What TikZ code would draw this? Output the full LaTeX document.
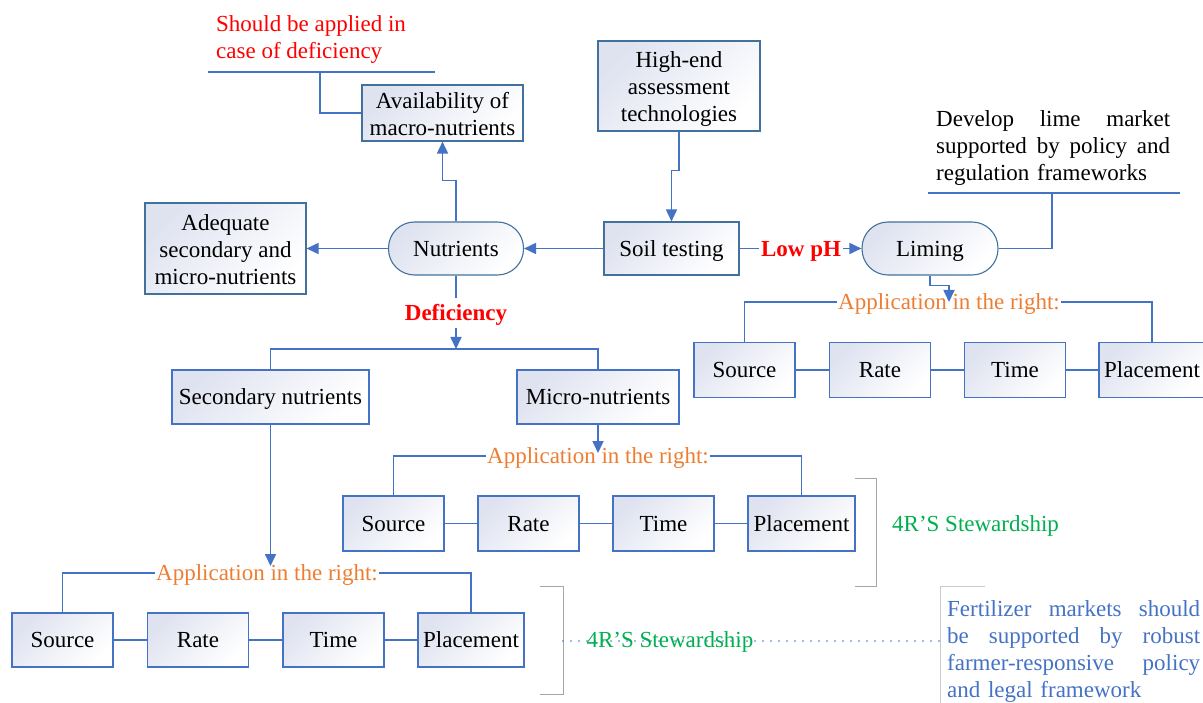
\documentclass[tikz,border=0pt]{standalone}
\usepackage{fontspec}
\setmainfont{Liberation Serif}
\usetikzlibrary{arrows.meta}
\definecolor{cblue}{HTML}{4472C4}
\definecolor{cdark}{HTML}{41719C}
\definecolor{cfill}{HTML}{DFE3F0}
\definecolor{corange}{HTML}{ED7D31}
\definecolor{cgreen}{HTML}{00B050}
\definecolor{cred}{HTML}{FF0000}
\definecolor{cgrey}{HTML}{A6A6A6}
\newcommand\zstrut{\rule[-5.5pt]{0pt}{26.5pt}}
\newcommand\ztallstrut{\rule[-5.5pt]{0pt}{29pt}}
\newcommand\jline[2]{\leavevmode\hbox to #1{#2}}
\begin{document}
\begin{tikzpicture}[x=1pt,y=-1pt,
  every node/.style={font=\fontsize{23}{27}\selectfont, inner sep=0pt},
  txt/.style={execute at begin node=\zstrut, execute at end node=\zstrut},
  box/.style={txt, draw=cdark, line width=1.1pt, top color=cfill, bottom color=white, shading angle=45, align=center},
  rbox/.style={box, draw=cblue, minimum width=101pt, minimum height=55pt},
  pill/.style={box, rounded corners=26pt, minimum width=135pt, minimum height=53pt},
  conn/.style={draw=cblue, line width=1.7pt},
  arr/.style={conn, -{Triangle[length=12pt,width=11pt]}},
  apptext/.style={txt, text=corange, inner sep=1pt},
  redlab/.style={txt, text=cred, font=\fontsize{23}{27}\selectfont\bfseries, inner sep=2pt},
  greytick/.style={draw=cgrey, line width=1pt},
  dots/.style={draw=cblue, line width=1.8pt, line cap=round, dash pattern=on 0pt off 8pt}]
\useasboundingbox (0,0) rectangle (1203,703);

% ---- top-level nodes
\node[box, minimum width=161pt, minimum height=54pt] (avail) at (442.5,113) {\ztallstrut Availability of\\macro-nutrients};
\node[box, minimum width=161pt, minimum height=91pt] (adeq) at (225.5,248.5) {\ztallstrut Adequate\\secondary and\\micro-nutrients};
\node[pill] (nutr) at (456,248.5) {Nutrients};
\node[box, minimum width=135pt, minimum height=53pt] (soil) at (671.5,248.5) {Soil testing};
\node[box, minimum width=162pt, minimum height=90pt] (high) at (679,86) {\ztallstrut High-end\\assessment\\technologies};
\node[pill, minimum width=136pt] (lim) at (930,248.5) {Liming};
\node[box, draw=cblue, minimum width=197pt, minimum height=54pt] (sec) at (270.5,397) {Secondary nutrients};
\node[box, draw=cblue, minimum width=162pt, minimum height=54pt] (mic) at (598,397) {Micro-nutrients};

% ---- labels
\node[redlab] (lowph) at (801,248.5) {Low pH};
\node[redlab] (defl) at (456,313) {Deficiency};
\node[txt, text=cred, align=left, anchor=west] (sba) at (216,40) {Should be applied in\\case of deficiency};
\node[txt, anchor=west, text width=234pt, align=left] (dev) at (936,145.5)
  {\jline{234pt}{Develop\hfill lime\hfill market}\\\jline{234pt}{supported\hfill by\hfill policy\hfill and}\\regulation frameworks};
\node[txt, anchor=west, text width=253pt, align=left, text=cblue] (fert) at (947,649)
  {\jline{253pt}{Fertilizer\hfill markets\hfill should}\\\jline{253pt}{be\hfill supported\hfill by\hfill robust}\\\jline{253pt}{farmer-responsive\hfill policy}\\and legal framework};

% ---- application groups
\node[apptext] (app1) at (949,302) {Application in the right:};
\node[apptext] (app2) at (598,456) {Application in the right:};
\node[apptext] (app3) at (267,573) {Application in the right:};

\node[rbox] (src1) at (744.5,370) {Source};
\node[rbox] (rate1) at (880,370) {Rate};
\node[rbox] (time1) at (1015,370) {Time};
\node[rbox, minimum width=106pt] (plc1) at (1152,370) {Placement};

\node[rbox] (src2) at (393.5,523.5) {Source};
\node[rbox] (rate2) at (528.5,523.5) {Rate};
\node[rbox] (time2) at (663.5,523.5) {Time};
\node[rbox, minimum width=107pt] (plc2) at (801.5,523.5) {Placement};

\node[rbox, minimum height=54pt] (src3) at (62.5,640) {Source};
\node[rbox, minimum height=54pt] (rate3) at (198,640) {Rate};
\node[rbox, minimum height=54pt] (time3) at (333.5,640) {Time};
\node[rbox, minimum height=54pt, minimum width=106pt] (plc3) at (471,640) {Placement};

% ---- coordinates
\coordinate (u1) at (208,72);
\coordinate (u2) at (435,72);
\coordinate (u3) at (320,72);
\coordinate (d1) at (928,193);
\coordinate (d2) at (1180,193);
\coordinate (d3) at (1052,193);
\coordinate (defj) at (456,349);
\coordinate (dotA) at (563,641);
\coordinate (dotB) at (940,641);

% ---- connectors
\draw[conn] (u1) -- (u2);
\draw[conn] (u3) |- (avail.west);
\draw[arr] (nutr.north) -- ++(0,-41) -| (avail.south);
\draw[arr] (nutr.west) -- (adeq.east);
\draw[arr] (soil.west) -- (nutr.east);
\draw[arr] (high.south) -- ++(0,39) -| (soil.north);
\draw[conn] (soil.east) -- (lowph.west);
\draw[arr] (lowph.east) -- (lim.west);
\draw[conn] (d1) -- (d2);
\draw[conn] (d3) |- (lim.east);
\draw[arr] (lim.south) -- ++(0,10) -| (app1.center);
\draw[conn] (nutr.south) -- (defl.north);
\draw[arr] (defl.south) -- (defj);
\draw[conn] (sec.north) |- (defj) -| (mic.north);
\draw[arr, shorten >=3pt] (mic.south) -- (app2.center);
\draw[arr, shorten >=7pt] (sec.south) -- (sec.south |- app3.center);

\draw[conn] (src1.north) |- (app1.west);
\draw[conn] (app1.east) -| (plc1.north);
\draw[conn] (src1) -- (rate1) (rate1) -- (time1) (time1) -- (plc1);
\draw[conn] (src2.north) |- (app2.west);
\draw[conn] (app2.east) -| (plc2.north);
\draw[conn] (src2) -- (rate2) (rate2) -- (time2) (time2) -- (plc2);
\draw[conn] (src3.north) |- (app3.west);
\draw[conn] (app3.east) -| (plc3.north);
\draw[conn] (src3) -- (rate3) (rate3) -- (time3) (time3) -- (plc3);

% ---- 4R stewardship brackets
\draw[greytick] (855,478) -- (876,478) -- (876,586) -- (855,586);
\node[txt, text=cgreen, anchor=west] (st1) at (892,524) {4R’S Stewardship};
\draw[greytick] (540,586) -- (563,586) -- (563,694) -- (540,694);
\draw[draw=cgrey!60, line width=0.8pt] (940,703) -- (940,586) -- (985,586);
\draw[dots] (dotA) -- (dotB);
\node[txt, text=cgreen] (st2) at (670,640) {4R’S Stewardship};
\end{tikzpicture}
\end{document}
